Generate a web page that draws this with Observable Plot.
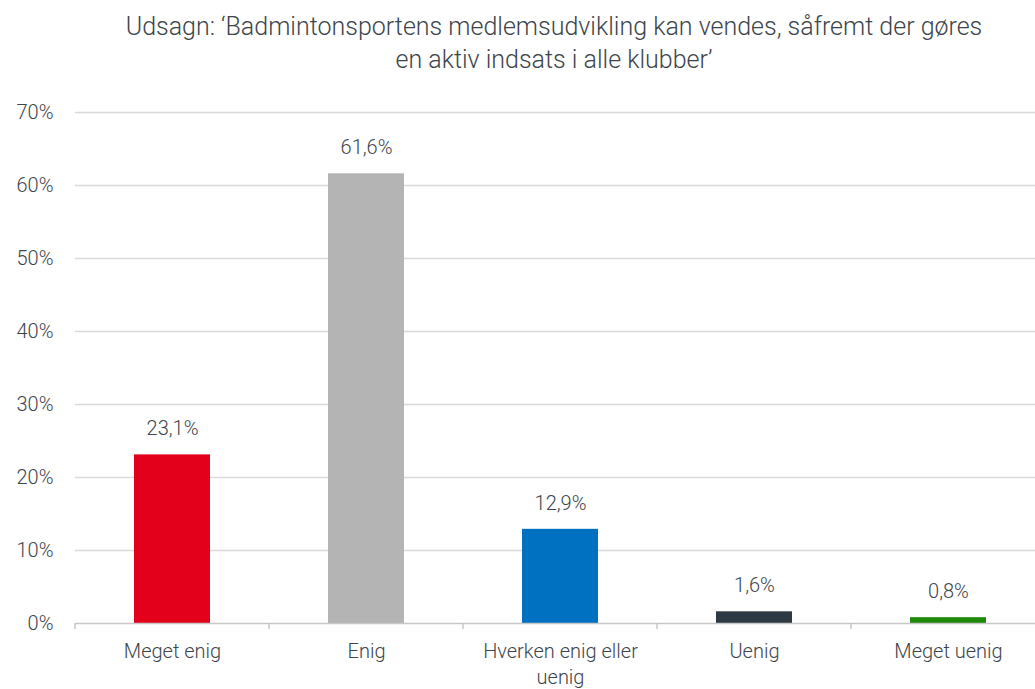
<!DOCTYPE html>
<html><head><meta charset="utf-8">
<script src="https://cdn.jsdelivr.net/npm/d3@7"></script>
<script src="https://cdn.jsdelivr.net/npm/@observablehq/plot@0.6"></script>
<style>
body{margin:0;background:#fff;overflow:hidden;font-family:Roboto,"Noto Sans",sans-serif;}
#title{height:85px;box-sizing:border-box;padding-top:10px;text-align:center;font-size:25px;font-weight:300;color:#3d454b;line-height:33px;width:1108px;white-space:nowrap;}
</style></head>
<body>
<div id="title">Udsagn: ‘Badmintonsportens medlemsudvikling kan vendes, såfremt der gøres<br>en aktiv indsats i alle klubber’</div>
<div id="chart"></div>
<script>
const categories = ["Meget enig","Enig","Hverken enig eller uenig","Uenig","Meget uenig"];
const values = [23.1, 61.6, 12.9, 1.6, 0.8];
const valueLabels = ["23,1%","61,6%","12,9%","1,6%","0,8%"];
const tickLabels = ["Meget enig","Enig","Hverken enig eller\nuenig","Uenig","Meget uenig"];
const colors = ["#e2001a","#b4b4b4","#0070c0","#2e3a43","#1f8a0c"];
const yTicks = [0,10,20,30,40,50,60,70];

const data = categories.map((c,i)=>({cat:c, value:values[i], label:valueLabels[i], color:colors[i]}));
const W = 1035, H = 604;
const PAD_IN = 0.61;

const num = v => typeof v === "function" ? v() : v;
const boundaryTicks = (index, scales) => {
  const x = scales.x, y = scales.y;
  const bw = num(x.bandwidth);
  const step = num(x.step) ?? bw / (1 - PAD_IN);
  const g = d3.create("svg:g");
  const y0 = y(0);
  categories.forEach(c => {
    const left = x(c) - (step - bw) / 2;
    g.append("line").attr("x1", left).attr("x2", left).attr("y1", y0).attr("y2", y0 + 6)
      .attr("stroke", "#bfbfbf").attr("stroke-width", 1.3);
  });
  return g.node();
};

const chart = Plot.plot({
  width: W, height: H,
  marginLeft: 75, marginRight: 0, marginTop: 27, marginBottom: 66,
  style: {fontFamily: "Roboto, 'Noto Sans', sans-serif", fontSize: "20px", color: "#3d454b", background: "#fff", overflow: "visible"},
  x: {domain: categories, range: [75, 1045], paddingInner: PAD_IN, paddingOuter: PAD_IN / 2, label: null},
  y: {domain: [0, 70], range: [538, 27], label: null},
  marks: [
    Plot.ruleY(yTicks.filter(d => d > 0), {stroke: "#d9d9d9", strokeWidth: 1.3}),
    Plot.barY(data, {x: "cat", y: "value", fill: "color"}),
    Plot.ruleY([0], {stroke: "#c8c8c8", strokeWidth: 1.5}),
    boundaryTicks,
    Plot.text(data, {x: "cat", y: "value", text: "label", dy: -26, fill: "#3d454b", fontSize: 20, fontWeight: 300}),
    Plot.axisY({ticks: yTicks, tickFormat: d => d + "%", tickSize: 0, tickPadding: 22, fontSize: 20, fill: "#3d454b", fontWeight: 300, textAnchor: "end"}),
    Plot.axisX({tickSize: 0, tickPadding: 16, tickFormat: d => tickLabels[categories.indexOf(d)], fontSize: 20, fill: "#3d454b", fontWeight: 300, lineHeight: 1.3})
  ]
});
document.getElementById("chart").appendChild(chart);
</script>
</body></html>
